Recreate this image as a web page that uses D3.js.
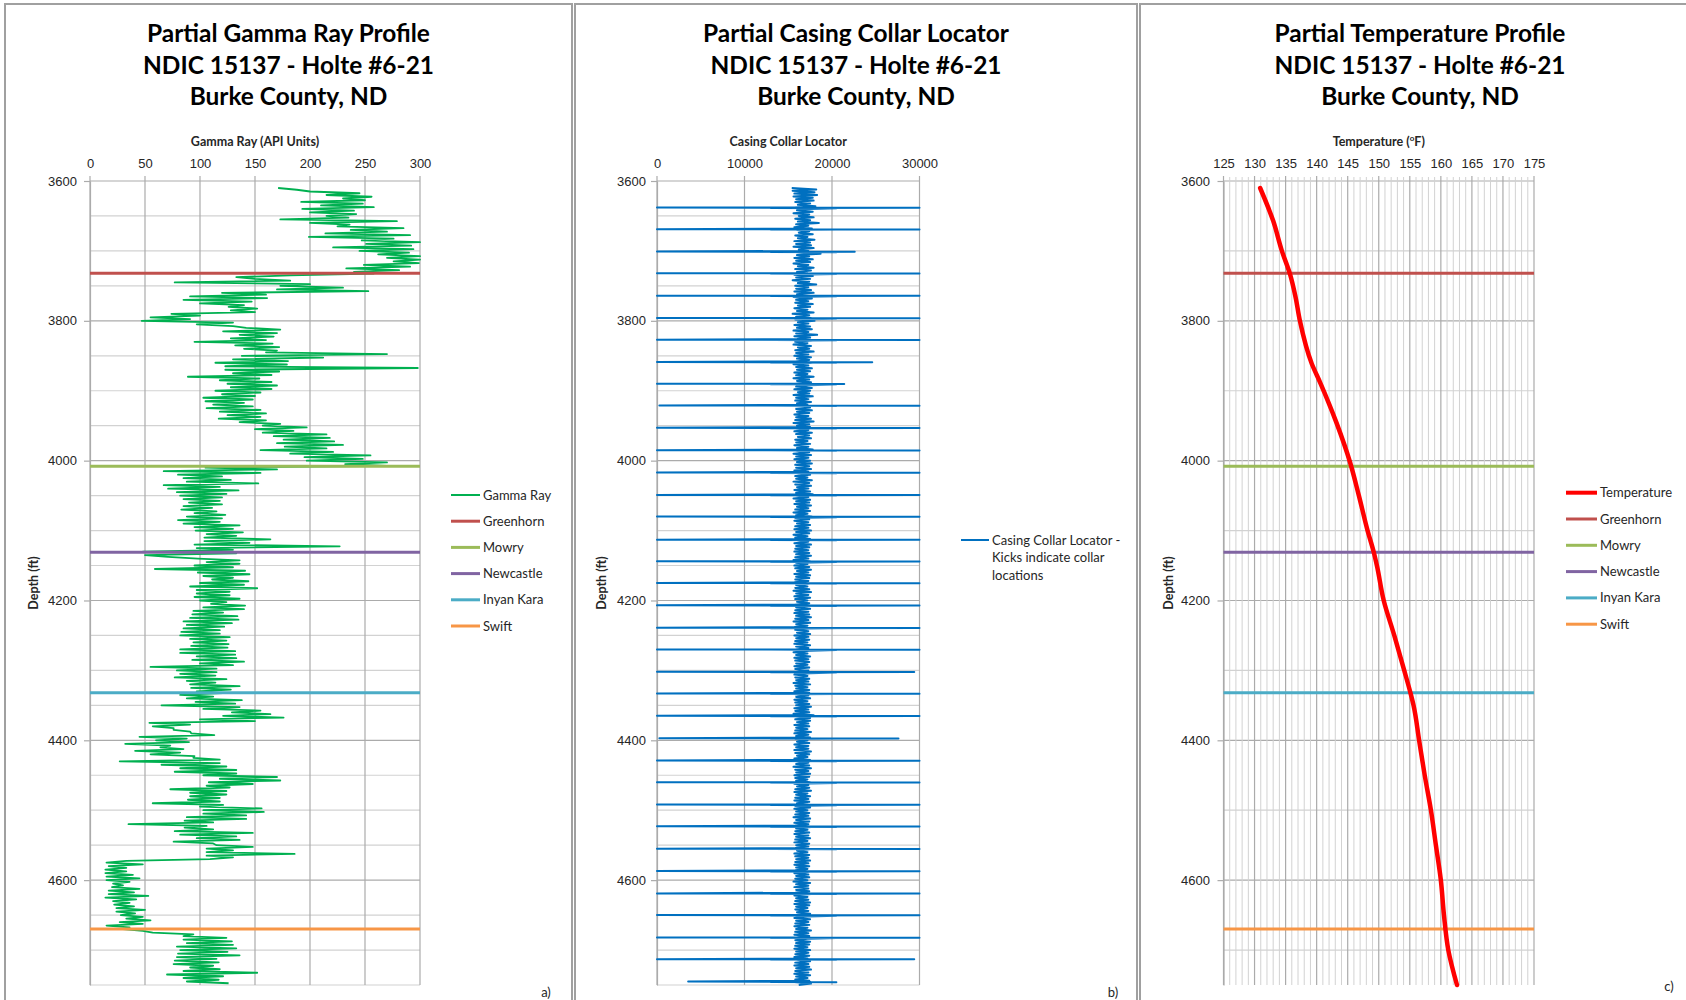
<!DOCTYPE html>
<html>
<head>
<meta charset="utf-8">
<script src="https://cdn.jsdelivr.net/npm/d3@7"></script>
<style>
  body { margin: 0; background: #fff; }
  svg { display: block; font-family: Lato, "Open Sans", sans-serif; }
</style>
</head>
<body>
<div id="chart"></div>
<script>

// ---------------- data ----------------
const depthTicks = [3600, 3800, 4000, 4200, 4400, 4600];
const gammaTicks = [0, 50, 100, 150, 200, 250, 300];
const cclTicks = [0, 10000, 20000, 30000];
const tempTicks = [125, 130, 135, 140, 145, 150, 155, 160, 165, 170, 175];

const formationNames = ['Greenhorn', 'Mowry', 'Newcastle', 'Inyan Kara', 'Swift'];
const formationDepths = [3732, 4008, 4131, 4332, 4670];

// gamma ray log (API), evenly spaced from gammaTop to gammaBottom
const gammaTop = 3610, gammaBottom = 4747.5;
const gammaAPI = [
  171,188, 200,245, 215,256, 230,250, 192,248, 210,258, 193,240, 200,242, 215,235, 173,279,
  200,236, 225,285, 237,270, 214,291, 199,276, 247,300, 251,292, 221,294, 245,290, 262,300,
  270,300, 276,299, 249,291, 233,281, 240,258, 182,133, 150,182, 77,200, 173,230, 170,253,
  120,160, 91,161, 85,147, 100,140, 126,152, 128,150, 74,100, 55,91, 47,130, 97,130,
  142,173, 121,170, 136,167, 128,160, 95,166, 132,172, 140,170, 160,270, 138,212, 130,180,
  114,179, 123,298, 123,172, 130,165, 89,154, 118,165, 125,170, 128,165, 114,155, 120,150,
  103,148, 105,140, 112,148, 106,155, 118,160, 125,155, 117,160, 136,173, 157,197, 150,185,
  157,215, 167,218, 176,222, 170,230, 177,215, 155,221, 182,255, 195,248, 197,270, 232,270,
  105,170, 67,155, 80,120, 85,128,
  88,153, 67,118, 71,135, 79,124, 82,120, 85,118, 90,120, 85,111, 83,115, 95,123,
  88,120, 80,118, 85,136, 95,130, 96,139, 106,133, 104,164, 104,145, 95,227, 97,130,
  48,133, 50,71, 98,136, 106,136, 95,130, 59,141, 98,145, 103,130, 111,144, 100,140,
  91,152, 97,127, 97,127, 95,136, 100,124, 110,141, 103,140, 94,121, 93,134, 91,135,
  85,129, 88,122, 85,118, 83,118, 82,127, 91,124, 94,126, 92,125, 82,132, 82,132,
  97,133, 93,140, 100,130, 55,115, 79,115, 82,114, 77,124, 88,114, 91,136, 92,128,
  97,121, 82,112, 88,138, 96,132, 65,136, 103,155, 129,164, 121,176, 100,150, 54,91,
  57,76, 76,91, 92,113, 45,88, 60,90, 32,73, 64,85, 41,82, 55,95, 94,118,
  27,118, 65,124, 82,133, 77,133, 103,170, 118,173, 108,148, 106,127, 73,124, 91,124,
  91,118, 89,118, 57,121, 100,156, 103,158, 103,142, 88,142, 86,112, 35,106, 86,112,
  77,148, 82,133, 97,136, 76,112, 115,148, 106,130, 106,186, 106,130, 109,33, 15,48,
  17,33, 14,33, 14,39, 15,45, 15,36, 21,30, 20,45, 17,40, 17,53, 14,42,
  21,36, 22,40, 24,50, 24,41, 28,48, 33,55, 27,48, 15,36, 30,48, 57,94,
  85,124, 85,129, 88,130, 79,133, 82,125, 80,136, 79,115, 77,117, 76,112, 91,118,
  85,152, 70,121, 85,117, 88,126
];

// casing collar locator background reading (hundreds), evenly spaced from cclTop to cclBottom
const cclTop = 3610, cclBottom = 4750;
const cclBand = [
  154,182,155,180,157,183,156,178,159,179,158,175,161,181,157,176,160,178,156,174,
  162,179,158,175,161,185,159,173,157,177,160,174,162,178,158,172,161,180,157,175,
  159,176,156,179,162,173,158,187,160,174,157,178,159,175,156,173,161,179,158,176,
  160,172,157,178,159,175,155,174,161,182,158,173,159,176,157,179,160,174,156,177,
  159,173,158,178,161,175,157,172,160,179,155,174,159,176,158,180,161,173,157,175,
  160,177,156,173,159,183,157,175,160,178,158,172,156,176,161,174,158,179,159,173,
  157,176,160,174,158,178,156,173,159,177,160,175,157,172,159,179,156,174,160,176,
  158,173,159,177,157,175,161,174,156,178,159,173,158,176,160,172,157,175,159,177,
  160,174,157,173,159,176,158,179,156,174,160,175,158,173,157,177,159,174,161,176,
  158,172,159,175,157,173,160,178,158,174,156,176,159,173,157,175,160,177,158,174,
  159,176,157,173,160,175,158,172,159,177,156,174,158,176,160,173,157,175,159,178,
  158,173,156,175,159,174,157,176,160,173,158,175,156,172,159,177,158,174,157,173,
  160,175,158,173,157,176,159,174,156,172,158,175,160,173,157,176,159,174,158,173,
  157,174,159,176,158,173,156,175,159,172,157,174,158,176,160,173,157,175,159,174,
  158,173,157,175,159,172,158,174,156,176,159,173,157,175,158,172,160,174,157,173,
  159,175,158,173,157,174,159,176,158,173,156,175,159,172,157,174,158,173,160,175,
  157,173,159,174,158,172,157,175,159,173,158,174,156,172,159,175,157,173,158,174,
  159,172,157,174,158,173,159,175,157,172,158,174,159,173,156,175,158,172,159,174,
  157,174,158,173,159,175,157,172,158,174,159,176,157,173,158,174,156,179,158,175,
  158,175,160,173,157,174,159,172,158,176,157,173,159,175,158,172,160,174,157,173,
  159,173,157,176,158,174,160,172,157,175,158,173,159,174,156,176,158,173,159,175,
  157,174,158,172,159,175,157,173,160,174,158,176,157,172,159,175,158,173,157,174,
  160,173,158,175,157,172,159,174,158,173,156,175,159,174,157,173,158,176,159,172,
  158,174,157,173,159,175,158,172,157,174,159,173,158,175,160,172,157,174,158,173,
  159,175,158,173,157,174,159,172,158,175,157,173,159,174,158,172,156,175,159,173,
  157,173,159,174,158,176,157,172,159,173,158,175,157,174,159,172,158,173,160,175,
  158,172,157,175,159,173,158,174,157,172,159,176,158,173,157,174,159,172,158,175,
  159,174,158,172,157,175,159,173,158,174,157,172,159,175,158,173,157,174,159,176,
  158,173,157,175,159,172,158,174,157,176,162
];
// collar kicks: depth, far left reading, far right reading, shoulder readings
const collarDepths = [3638, 3669, 3701, 3732, 3764, 3796, 3827, 3859, 3890, 3921, 3953, 3985,
  4017, 4049, 4080, 4113, 4144, 4175, 4207, 4239, 4270, 4302, 4333, 4365,
  4397, 4429, 4460, 4492, 4523, 4555, 4587, 4619, 4650, 4682, 4713, 4745];
const kickLow = [0, 0, 0, 0, 0, 0, 0, 0, 0, 270, 0, 0,
  0, 0, 0, 0, 0, 0, 0, 0, 0, 0, 0, 0,
  270, 0, 0, 0, 0, 0, 0, 0, 0, 0, 0, 3560];
const kickHigh = [30000, 30000, 22600, 30000, 30000, 30000, 30000, 24600, 21400, 30000, 30000, 30000,
  30000, 30000, 30000, 30000, 30000, 30000, 30000, 30000, 30000, 29400, 30000, 30000,
  27600, 30000, 30000, 30000, 30000, 30000, 30000, 30000, 30000, 30000, 29400, 17500];
const kickShoulder = [13000, 20500];

// temperature log
const tempDepths = [3610, 3657, 3700, 3733, 3766, 3800, 3861, 3889, 3946, 4003, 4050, 4100, 4131,
  4150, 4200, 4250, 4300, 4332, 4350, 4400, 4450, 4500, 4550, 4600, 4650, 4700, 4750];
const tempF = [130.9, 133.0, 134.4, 135.7, 136.6, 137.3, 139.2, 140.6, 143.2, 145.4, 146.8, 148.2, 149.2,
  149.7, 150.8, 152.5, 154.1, 155.1, 155.6, 156.5, 157.4, 158.4, 159.2, 160.0, 160.5, 161.2, 162.6];

// ---------------- styles ----------------
const formationColors = ['#C0504D', '#9BBB59', '#8064A2', '#4BACC6', '#F79646'];
const gammaColor = '#00B050', cclColor = '#0070C0', tempColor = '#FF0000';
const gridMajor = '#ababab', gridMinor = '#d2d2d2', textColor = '#262626';

const width = 1686, height = 1000;
const svg = d3.select('#chart').append('svg')
  .attr('width', width)
  .attr('height', height);

const y = d3.scaleLinear().domain([3600, 4750]).range([181, 985]);

const panels = [
  { frame: [5, 572], xRange: [90, 420], xDomain: [0, 300], ticks: gammaTicks, minor: null,
    hStep: 50, yLabelRight: 77, yTitleX: 34, tag: 'a)', tagPos: [546, 992],
    title: 'Partial Gamma Ray Profile', axisTitle: ['Gamma Ray (API Units)'] },
  { frame: [575, 1137], xRange: [657, 919.5], xDomain: [0, 30000], ticks: cclTicks, minor: null,
    hStep: 50, yLabelRight: 646, yTitleX: 602, tag: 'b)', tagPos: [1113, 992],
    title: 'Partial Casing Collar Locator', axisTitle: ['Casing Collar Locator'] },
  { frame: [1140, 1700], xRange: [1223.5, 1534], xDomain: [125, 175], ticks: tempTicks, minor: d3.range(125, 176, 1),
    hStep: 100, yLabelRight: 1210, yTitleX: 1169, tag: 'c)', tagPos: [1669, 986],
    title: 'Partial Temperature Profile', axisTitle: ['Temperature (', 'o', 'F)'] }
];

// title size fitted to the width of the first title line
const probe = svg.append('text').attr('font-weight', 'bold').attr('font-size', 24).text(panels[0].title);
const titleSize = 24 * 283 / probe.node().getComputedTextLength();
probe.remove();

function drawPanel(p) {
  const g = svg.append('g');
  const x = d3.scaleLinear().domain(p.xDomain).range(p.xRange);
  const cx = (p.frame[0] + p.frame[1]) / 2;

  g.append('rect')
    .attr('x', p.frame[0]).attr('y', 4)
    .attr('width', p.frame[1] - p.frame[0]).attr('height', 1100)
    .attr('fill', '#fff').attr('stroke', '#a0a0a0').attr('stroke-width', 2);

  // title
  const t = g.append('text').attr('text-anchor', 'middle').attr('font-weight', 'bold')
    .attr('font-size', titleSize).attr('fill', '#000');
  [p.title, 'NDIC 15137 - Holte #6-21', 'Burke County, ND'].forEach((line, i) => {
    t.append('tspan').attr('x', cx).attr('y', 42 + i * 31.6).text(line);
  });

  // grid
  const hGrid = d3.range(3600, 4751, p.hStep);
  g.append('g').selectAll('line').data(hGrid).join('line')
    .attr('x1', p.xRange[0]).attr('x2', p.xRange[1])
    .attr('y1', d => y(d)).attr('y2', d => y(d))
    .attr('stroke', d => depthTicks.includes(d) ? gridMajor : gridMinor)
    .attr('stroke-width', 1.2);
  if (p.minor) {
    g.append('g').selectAll('line').data(p.minor.filter(d => !p.ticks.includes(d))).join('line')
      .attr('x1', d => x(d)).attr('x2', d => x(d))
      .attr('y1', y(3600) - 4).attr('y2', y(4750))
      .attr('stroke', gridMinor).attr('stroke-width', 1);
  }
  g.append('g').selectAll('line').data(p.ticks).join('line')
    .attr('x1', d => x(d)).attr('x2', d => x(d))
    .attr('y1', y(3600) - 5).attr('y2', y(4750))
    .attr('stroke', gridMajor).attr('stroke-width', 1.2);

  // top axis labels
  const topAxis = d3.axisTop(x).tickValues(p.ticks).tickSize(0).tickPadding(13)
    .tickFormat(d3.format('d'));
  const ta = g.append('g').attr('transform', `translate(0,${y(3600)})`).call(topAxis);
  ta.select('.domain').remove();
  ta.selectAll('text').attr('font-family', null).attr('font-size', 13).attr('fill', textColor);

  // left axis
  const leftAxis = d3.axisLeft(y).tickValues(depthTicks).tickSize(6).tickSizeOuter(0)
    .tickPadding(p.xRange[0] - 6 - p.yLabelRight).tickFormat(d3.format('d'));
  const la = g.append('g').attr('transform', `translate(${p.xRange[0]},0)`).call(leftAxis);
  la.select('.domain').attr('stroke', gridMajor).attr('stroke-width', 1.2);
  la.selectAll('.tick line').attr('stroke', gridMajor).attr('stroke-width', 1.2);
  la.selectAll('text').attr('font-family', null).attr('font-size', 13).attr('fill', textColor);

  // axis titles
  const at = g.append('text').attr('x', (p.xRange[0] + p.xRange[1]) / 2).attr('y', 145.5)
    .attr('text-anchor', 'middle').attr('font-weight', 'bold').attr('font-size', 12.5).attr('fill', textColor);
  at.append('tspan').text(p.axisTitle[0]);
  if (p.axisTitle.length > 1) {
    at.append('tspan').attr('font-size', 8).attr('dy', -5).text(p.axisTitle[1]);
    at.append('tspan').attr('dy', 5).text(p.axisTitle[2]);
  }
  g.append('text')
    .attr('transform', `translate(${p.yTitleX + 4},${(y(3600) + y(4750)) / 2}) rotate(-90)`)
    .attr('text-anchor', 'middle').attr('font-weight', 'bold').attr('font-size', 12.5)
    .attr('fill', textColor).text('Depth (ft)');

  g.append('text').attr('x', p.tagPos[0]).attr('y', p.tagPos[1] + 5)
    .attr('text-anchor', 'middle').attr('font-size', 13).attr('fill', textColor).text(p.tag);

  return { g, x };
}

function drawFormations(g, x) {
  g.append('g').selectAll('line').data(formationDepths).join('line')
    .attr('x1', x.range()[0]).attr('x2', x.range()[1])
    .attr('y1', d => y(d)).attr('y2', d => y(d))
    .attr('stroke', (d, i) => formationColors[i]).attr('stroke-width', 3);
}

function drawLegend(g, entries, lx, ty, dy) {
  const rows = g.append('g').selectAll('g').data(entries).join('g')
    .attr('transform', (d, i) => `translate(0,${ty + i * dy})`);
  rows.append('line').attr('x1', lx[0]).attr('x2', lx[1])
    .attr('stroke', d => d.color).attr('stroke-width', d => d.w);
  rows.append('text').attr('x', lx[1] + 3).attr('y', 4.5)
    .attr('font-size', 13).attr('fill', textColor).text(d => d.name);
}

const formationLegend = formationNames.map((n, i) => ({ name: n, color: formationColors[i], w: 3 }));

// ---- panel a: gamma ray ----
{
  const { g, x } = drawPanel(panels[0]);
  const step = (gammaBottom - gammaTop) / (gammaAPI.length - 1);
  const line = d3.line().x(d => x(d)).y((d, i) => y(gammaTop + i * step));
  g.append('path').attr('d', line(gammaAPI)).attr('fill', 'none')
    .attr('stroke', gammaColor).attr('stroke-width', 1.8).attr('stroke-linejoin', 'round');
  drawFormations(g, x);
  drawLegend(g, [{ name: 'Gamma Ray', color: gammaColor, w: 2 }].concat(formationLegend),
    [451, 480], 495, 26.2);
}

// ---- panel b: casing collar locator ----
{
  const { g, x } = drawPanel(panels[1]);
  const step = (cclBottom - cclTop) / (cclBand.length - 1);
  const pts = cclBand.map((v, i) => ({ d: cclTop + i * step, v: v * 100 }));
  collarDepths.forEach((d, i) => {
    pts.push({ d: d, v: kickLow[i] });
    pts.push({ d: d + 0.3, v: kickHigh[i] });
    pts.push({ d: d + 0.6, v: kickShoulder[0] });
    pts.push({ d: d + 0.9, v: kickShoulder[1] });
  });
  pts.sort((a, b) => a.d - b.d);
  const line = d3.line().x(d => x(d.v)).y(d => y(d.d));
  g.append('path').attr('d', line(pts)).attr('fill', 'none')
    .attr('stroke', cclColor).attr('stroke-width', 2).attr('stroke-linejoin', 'round');
  g.append('line').attr('x1', 961).attr('x2', 989).attr('y1', 540).attr('y2', 540)
    .attr('stroke', cclColor).attr('stroke-width', 2);
  const lt = g.append('text').attr('font-size', 13).attr('fill', textColor);
  ['Casing Collar Locator -', 'Kicks indicate collar', 'locations'].forEach((s, i) => {
    lt.append('tspan').attr('x', 992).attr('y', 544.5 + i * 17.5).text(s);
  });
}

// ---- panel c: temperature ----
{
  const { g, x } = drawPanel(panels[2]);
  drawFormations(g, x);
  const line = d3.line().x(d => x(d)).y((d, i) => y(tempDepths[i])).curve(d3.curveMonotoneY);
  g.append('path').attr('d', line(tempF)).attr('fill', 'none')
    .attr('stroke', tempColor).attr('stroke-width', 4.5).attr('stroke-linecap', 'round');
  drawLegend(g, [{ name: 'Temperature', color: tempColor, w: 4 }].concat(formationLegend),
    [1566, 1597], 492.7, 26.3);
}
</script>
</body>
</html>
